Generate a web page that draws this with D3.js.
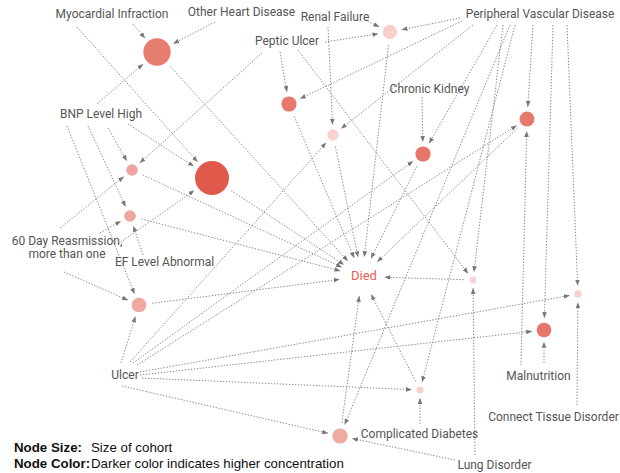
<!DOCTYPE html>
<html><head><meta charset="utf-8">
<script src="https://cdn.jsdelivr.net/npm/d3@7"></script>
<style>body{margin:0;background:#fff}</style>
</head><body>
<svg id="chart" width="620" height="473"></svg>
<script>
// ---------- data ----------
const cohortIds = ["c1","c2","c3","c4","c5","c6","c7","c8","c9","c10","c11","c12","c13","c14","c15"];
const cohortSize = [187,58,34,290,34,52,32,58,56,54,12,14,54,13,58];
const concentration = [0.75,0.78,0.45,1.0,0.45,0.15,0.12,0.8,0.78,0.43,0.13,0.14,0.8,0.14,0.42];

const labelIds = ["MI","OHD","RF","PU","PVD","CK","BNP","D60","EF","DIED","ULC","MAL","CTD","CD","LD"];
const labelTexts = ["Myocardial Infraction","Other Heart Disease","Renal Failure","Peptic Ulcer",
  "Peripheral Vascular Disease","Chronic Kidney","BNP Level High","60 Day Reasmission,|more than one",
  "EF Level Abnormal","Died","Ulcer","Malnutrition","Connect Tissue Disorder","Complicated Diabetes","Lung Disorder"];

const linkSource = ["MI","MI","OHD","BNP","BNP","BNP","BNP","BNP","D60","D60","D60","D60","EF",
  "PU","PU","PU","PU","RF","RF",
  "PVD","PVD","PVD","PVD","PVD","PVD","PVD","PVD","PVD","PVD",
  "CK","MAL","MAL","CTD","CD","LD","LD",
  "ULC","ULC","ULC","ULC","ULC","ULC","ULC","ULC",
  "c1","c2","c3","c4","c5","c6","c7","c8","c9","c10","c11","c14","c15"];
const linkTarget = ["c1","c4","c1","c1","c3","c4","c5","c10","c3","c5","c4","c10","c5",
  "c3","c2","c6","c11","c6","c7",
  "c6","c2","c7","c8","c11","c15","c14","c9","c13","c12",
  "c8","c13","c9","c12","c14","c11","c15",
  "c10","c7","c8","c9","c12","c13","c14","c15",
  "DIED","DIED","DIED","DIED","DIED","DIED","DIED","DIED","DIED","DIED","DIED","DIED","DIED"];

// ---------- layout (positions in chart units) ----------
const cohortX = [157,289,132,212,130,390,333,423,527,139,473,578,544,420,340];
const cohortY = [52,104,170,178,216,32,135,154,119,305,280,294,330,390,436];
const labelX = [112,241.5,335,287,540,429.5,101,67,164.5,364,125,538.5,553.5,419.5,494.5];
const labelY = [13.5,12,16.5,40.5,13.5,88.5,114,247.5,261.5,275.5,374.5,376,417,433.5,465];
// where each label-sourced link leaves its label (offset from label centre)
const anchorDX = [21,-35,-26.5,-4,7,27,-13,-34,-7,33,51,-3,-21.5,
  -25,-7,38,11,30,-7,
  -80,-78,-67,-43,-37,-30,-25,-7,13,27,
  -7.5,5.5,-17.5,23.5,0.5,-19.5,-39.5,
  -4,5,8,12,15,15,17,-3];
const anchorDY = [10.5,13.5,10,-10,14,10,12,12,-19.5,-14.5,-3.5,24.5,-6.5,
  12.5,11.5,1.5,9.5,3.5,10.5,
  4.5,7.5,11.5,11.5,11.5,11.5,11.5,11.5,11.5,11.5,
  8.5,-13,-11,-12,-9.5,-10,-5,
  -11.5,-12.5,-11.5,-9.5,-2.5,0.5,3.5,11.5];

// ---------- scales ----------
const W = 620, H = 473;
const x = d3.scaleLinear().domain([0, 620]).range([0, W]);
const y = d3.scaleLinear().domain([0, 473]).range([0, H]);
const r = d3.scaleSqrt().domain([0, 300]).range([0, 17.3]);
const color = d3.scaleLinear().domain([0, 1]).range(["#fbe4e1", "#e05a4b"]);

const svg = d3.select("#chart");
const defs = svg.append("defs");
defs.append("marker").attr("id","arrow").attr("markerUnits","userSpaceOnUse")
  .attr("viewBox","0 -3 6 6").attr("refX",5.5).attr("refY",0)
  .attr("markerWidth",6).attr("markerHeight",6).attr("orient","auto")
  .append("path").attr("d","M0,-2.3L6,0L0,2.3Z").attr("fill","#777");

const cohorts = cohortIds.map((id,i)=>({id, cx:x(cohortX[i]), cy:y(cohortY[i]), rad:r(cohortSize[i]), fill:color(concentration[i])}));
const cohortById = new Map(cohorts.map(d=>[d.id,d]));
const labels = labelIds.map((id,i)=>({id, text:labelTexts[i], cx:x(labelX[i]), cy:y(labelY[i])}));
const labelById = new Map(labels.map(d=>[d.id,d]));

const startGap = 6, endGap = 5;
const died = labelById.get("DIED");
const links = linkSource.map((s,i)=>{
  const t = linkTarget[i];
  let sx, sy, tx, ty;
  if (cohortById.has(s)) { const c = cohortById.get(s); sx = c.cx; sy = c.cy; }
  else { const l = labelById.get(s); sx = l.cx + anchorDX[i]; sy = l.cy + anchorDY[i]; }
  let tcx, tcy;
  if (t === "DIED") { tcx = died.cx - 2; tcy = died.cy + 1; }
  else { const c = cohortById.get(t); tcx = c.cx; tcy = c.cy; }
  const dx = tcx - sx, dy = tcy - sy, len = Math.hypot(dx,dy), ux = dx/len, uy = dy/len;
  if (cohortById.has(s)) { const c = cohortById.get(s); sx += ux*(c.rad+startGap); sy += uy*(c.rad+startGap); }
  if (t === "DIED") {
    const rx = 23, ry = 20;
    const k = 1/Math.sqrt((ux/rx)**2 + (uy/ry)**2);
    tx = tcx - ux*k; ty = tcy - uy*k;
  } else {
    const c = cohortById.get(t);
    tx = tcx - ux*(c.rad+endGap); ty = tcy - uy*(c.rad+endGap);
  }
  return {sx,sy,tx,ty};
});

svg.append("g").selectAll("line").data(links).join("line")
  .attr("x1",d=>d.sx).attr("y1",d=>d.sy).attr("x2",d=>d.tx).attr("y2",d=>d.ty)
  .attr("stroke","#8a8a8a").attr("stroke-width",1).attr("stroke-dasharray","1.4,1.6")
  .attr("marker-end","url(#arrow)");

svg.append("g").selectAll("circle").data(cohorts).join("circle")
  .attr("cx",d=>d.cx).attr("cy",d=>d.cy).attr("r",d=>d.rad).attr("fill",d=>d.fill);

const lg = svg.append("g").attr("font-family","Roboto, 'Noto Sans', sans-serif").attr("font-size",12)
  .attr("text-anchor","middle");
labels.forEach(l=>{
  const t = lg.append("text").attr("fill", l.id==="DIED" ? "#e8604f" : "#555")
    .attr("font-size", l.id==="DIED" ? 13 : 12);
  const parts = l.text.split("|");
  if (parts.length === 1) {
    t.attr("x",l.cx).attr("y",l.cy+4.2).text(l.text);
  } else {
    parts.forEach((p,j)=>t.append("tspan").attr("x",l.cx).attr("y",l.cy+4.2+(j-0.5)*13.5).text(p));
  }
});

// legend
const legendKeys = ["Node Size:","Node Color:"];
const legendTexts = ["Size of cohort","Darker color indicates higher concentration"];
const leg = svg.append("g").attr("font-family","'Liberation Sans', Arial, sans-serif").attr("font-size",13.3).attr("fill","#111");
legendKeys.forEach((k,i)=>{
  leg.append("text").attr("x",14).attr("y",452+i*16).attr("font-weight","bold").text(k);
  leg.append("text").attr("x",91).attr("y",452+i*16).text(legendTexts[i]);
});
</script>
</body></html>
